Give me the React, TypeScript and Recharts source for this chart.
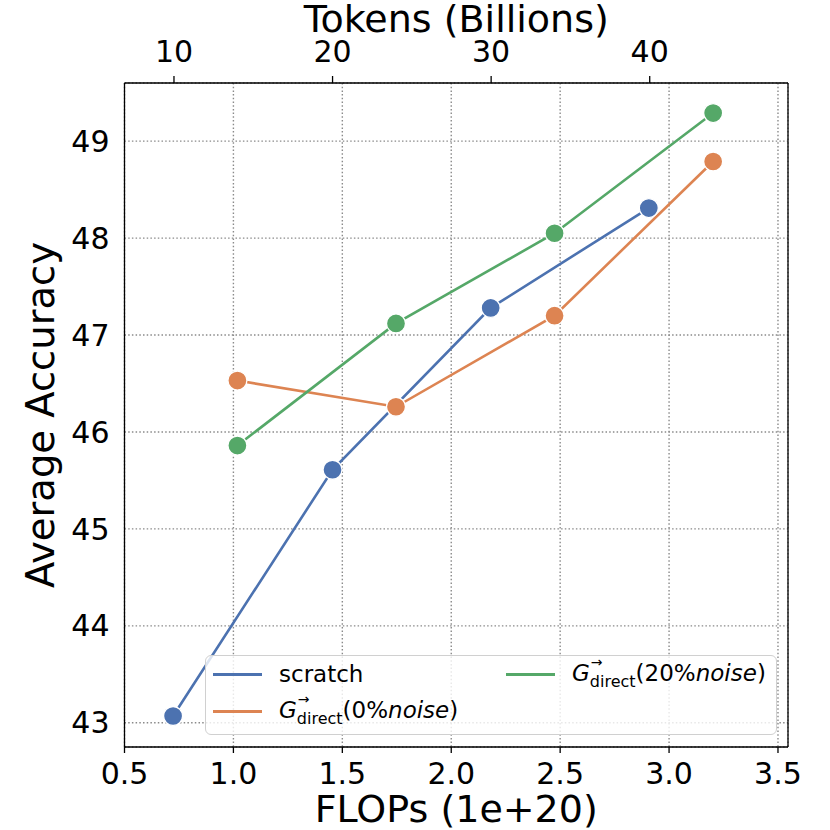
import React from 'react';
import {
  LineChart, Line, XAxis, YAxis, CartesianGrid, Legend, ReferenceLine,
} from 'recharts';

document.body.style.margin = '0';

const FONT = '"DejaVu Sans", Verdana, sans-serif';

// scratch is read against the bottom FLOPs axis, the two G runs against the top tokens axis
const SCRATCH_FLOPS = [0.723, 1.455, 2.181, 2.907];
const SCRATCH_ACC = [43.07, 45.61, 47.28, 48.31];
const NOISE0_TOKENS = [14, 24, 34, 44];
const NOISE0_ACC = [46.53, 46.26, 47.2, 48.79];
const NOISE20_TOKENS = [14, 24, 34, 44];
const NOISE20_ACC = [45.86, 47.12, 48.05, 49.29];

const TOKEN_TICKS = [10, 20, 30, 40];
const FLOP_TICKS = [0.5, 1.0, 1.5, 2.0, 2.5, 3.0, 3.5];
const ACC_TICKS = [43, 44, 45, 46, 47, 48, 49];
const FLOP_DOMAIN = [0.5, 3.546];

const BLUE = '#4C72B0';
const ORANGE = '#DD8452';
const GREEN = '#55A868';

const scratch = SCRATCH_FLOPS.map((flops, i) => ({ flops, acc: SCRATCH_ACC[i] }));
const noise0 = NOISE0_TOKENS.map((tokens, i) => ({ tokens, acc: NOISE0_ACC[i] }));
const noise20 = NOISE20_TOKENS.map((tokens, i) => ({ tokens, acc: NOISE20_ACC[i] }));

const tickStyle = { fontSize: 30, fill: '#000', fontFamily: FONT };
const dot = (color: string) => ({ r: 9.5, fill: color, stroke: '#fff', strokeWidth: 1.3 });
const axisLine = { stroke: '#000', strokeWidth: 1.3 };

const GLabel = ({ pct }: { pct: string }) => (
  <span style={{ whiteSpace: 'nowrap' }}>
    <span style={{ fontStyle: 'italic' }}>G</span>
    <span style={{ position: 'relative', display: 'inline-block' }}>
      <span style={{ position: 'absolute', left: 1, top: -11, fontSize: 14 }}>→</span>
      <span style={{ position: 'relative', top: 6, fontSize: 16 }}>direct</span>
    </span>
    ({pct}%<span style={{ fontStyle: 'italic' }}>noise</span>)
  </span>
);

const LegendBox = () => {
  const item = (color: string, left: number, top: number, label: React.ReactNode) => (
    <div style={{ position: 'absolute', left, top, display: 'flex', alignItems: 'center', height: 30 }}>
      <div style={{ width: 49, height: 3, background: color, marginRight: 17 }} />
      <div>{label}</div>
    </div>
  );
  return (
    <div
      style={{
        position: 'relative', width: 572, height: 80, boxSizing: 'border-box',
        background: 'rgba(255,255,255,0.8)', border: '1.5px solid #d0d0d0', borderRadius: 6,
        fontFamily: FONT, fontSize: 23, color: '#000', lineHeight: '30px',
      }}
    >
      {item(BLUE, 7, 3, 'scratch')}
      {item(GREEN, 300, 3, <GLabel pct="20" />)}
      {item(ORANGE, 7, 40, <GLabel pct="0" />)}
    </div>
  );
};

const YTitle = ({ viewBox }: any) => {
  const cx = viewBox.x + 54;
  const cy = viewBox.y + viewBox.height / 2;
  return (
    <text x={cx} y={cy} transform={`rotate(-90 ${cx} ${cy})`} textAnchor="middle"
      fontSize={38.5} fontFamily={FONT} fill="#000">Average Accuracy</text>
  );
};

const TopTitle = ({ viewBox }: any) => (
  <text x={viewBox.x + viewBox.width / 2} y={viewBox.y + 32} textAnchor="middle"
    fontSize={38} fontFamily={FONT} fill="#000">Tokens (Billions)</text>
);

const BottomTitle = ({ viewBox }: any) => (
  <text x={viewBox.x + viewBox.width / 2} y={viewBox.y + 75} textAnchor="middle"
    fontSize={38} fontFamily={FONT} fill="#000">FLOPs (1e+20)</text>
);

export default function App() {
  return (
    <LineChart width={830} height={830} margin={{ top: 0, right: 42, bottom: 0, left: 0 }}>
      <CartesianGrid xAxisId="flops" yAxisId="acc" stroke="#8a8a8a" strokeWidth={1.4} strokeDasharray="1.5 2.2" />
      <XAxis
        xAxisId="tok" orientation="top" type="number" dataKey="tokens"
        domain={[6.88, 48.72]} allowDataOverflow ticks={TOKEN_TICKS} height={83}
        tick={tickStyle} tickSize={7} tickMargin={14}
        tickLine={axisLine} axisLine={axisLine}
        label={<TopTitle />}
      />
      <XAxis
        xAxisId="flops" orientation="bottom" type="number" dataKey="flops"
        domain={FLOP_DOMAIN} allowDataOverflow ticks={FLOP_TICKS} height={83}
        tickFormatter={(v: number) => v.toFixed(1)}
        tick={tickStyle} tickSize={6} tickMargin={10}
        tickLine={axisLine} axisLine={axisLine}
        label={<BottomTitle />}
      />
      <YAxis
        yAxisId="acc" type="number" domain={[42.75, 49.6]} allowDataOverflow
        ticks={ACC_TICKS} width={124.5} tick={tickStyle} tickSize={0} tickMargin={15}
        tickLine={false} axisLine={axisLine}
        label={<YTitle />}
      />
      <ReferenceLine xAxisId="flops" yAxisId="acc" x={FLOP_DOMAIN[1]} stroke="#000" strokeWidth={1.3} ifOverflow="visible" />
      <Legend
        layout="horizontal" verticalAlign="middle" align="center"
        content={<LegendBox />}
        wrapperStyle={{ position: 'absolute', left: 205, top: 655, width: 572, height: 80 }}
      />
      <Line xAxisId="flops" yAxisId="acc" data={scratch} dataKey="acc" name="scratch"
        stroke={BLUE} strokeWidth={2.6} dot={dot(BLUE)} activeDot={false} isAnimationActive={false} />
      <Line xAxisId="tok" yAxisId="acc" data={noise0} dataKey="acc" name="noise0"
        stroke={ORANGE} strokeWidth={2.6} dot={dot(ORANGE)} activeDot={false} isAnimationActive={false} />
      <Line xAxisId="tok" yAxisId="acc" data={noise20} dataKey="acc" name="noise20"
        stroke={GREEN} strokeWidth={2.6} dot={dot(GREEN)} activeDot={false} isAnimationActive={false} />
    </LineChart>
  );
}
